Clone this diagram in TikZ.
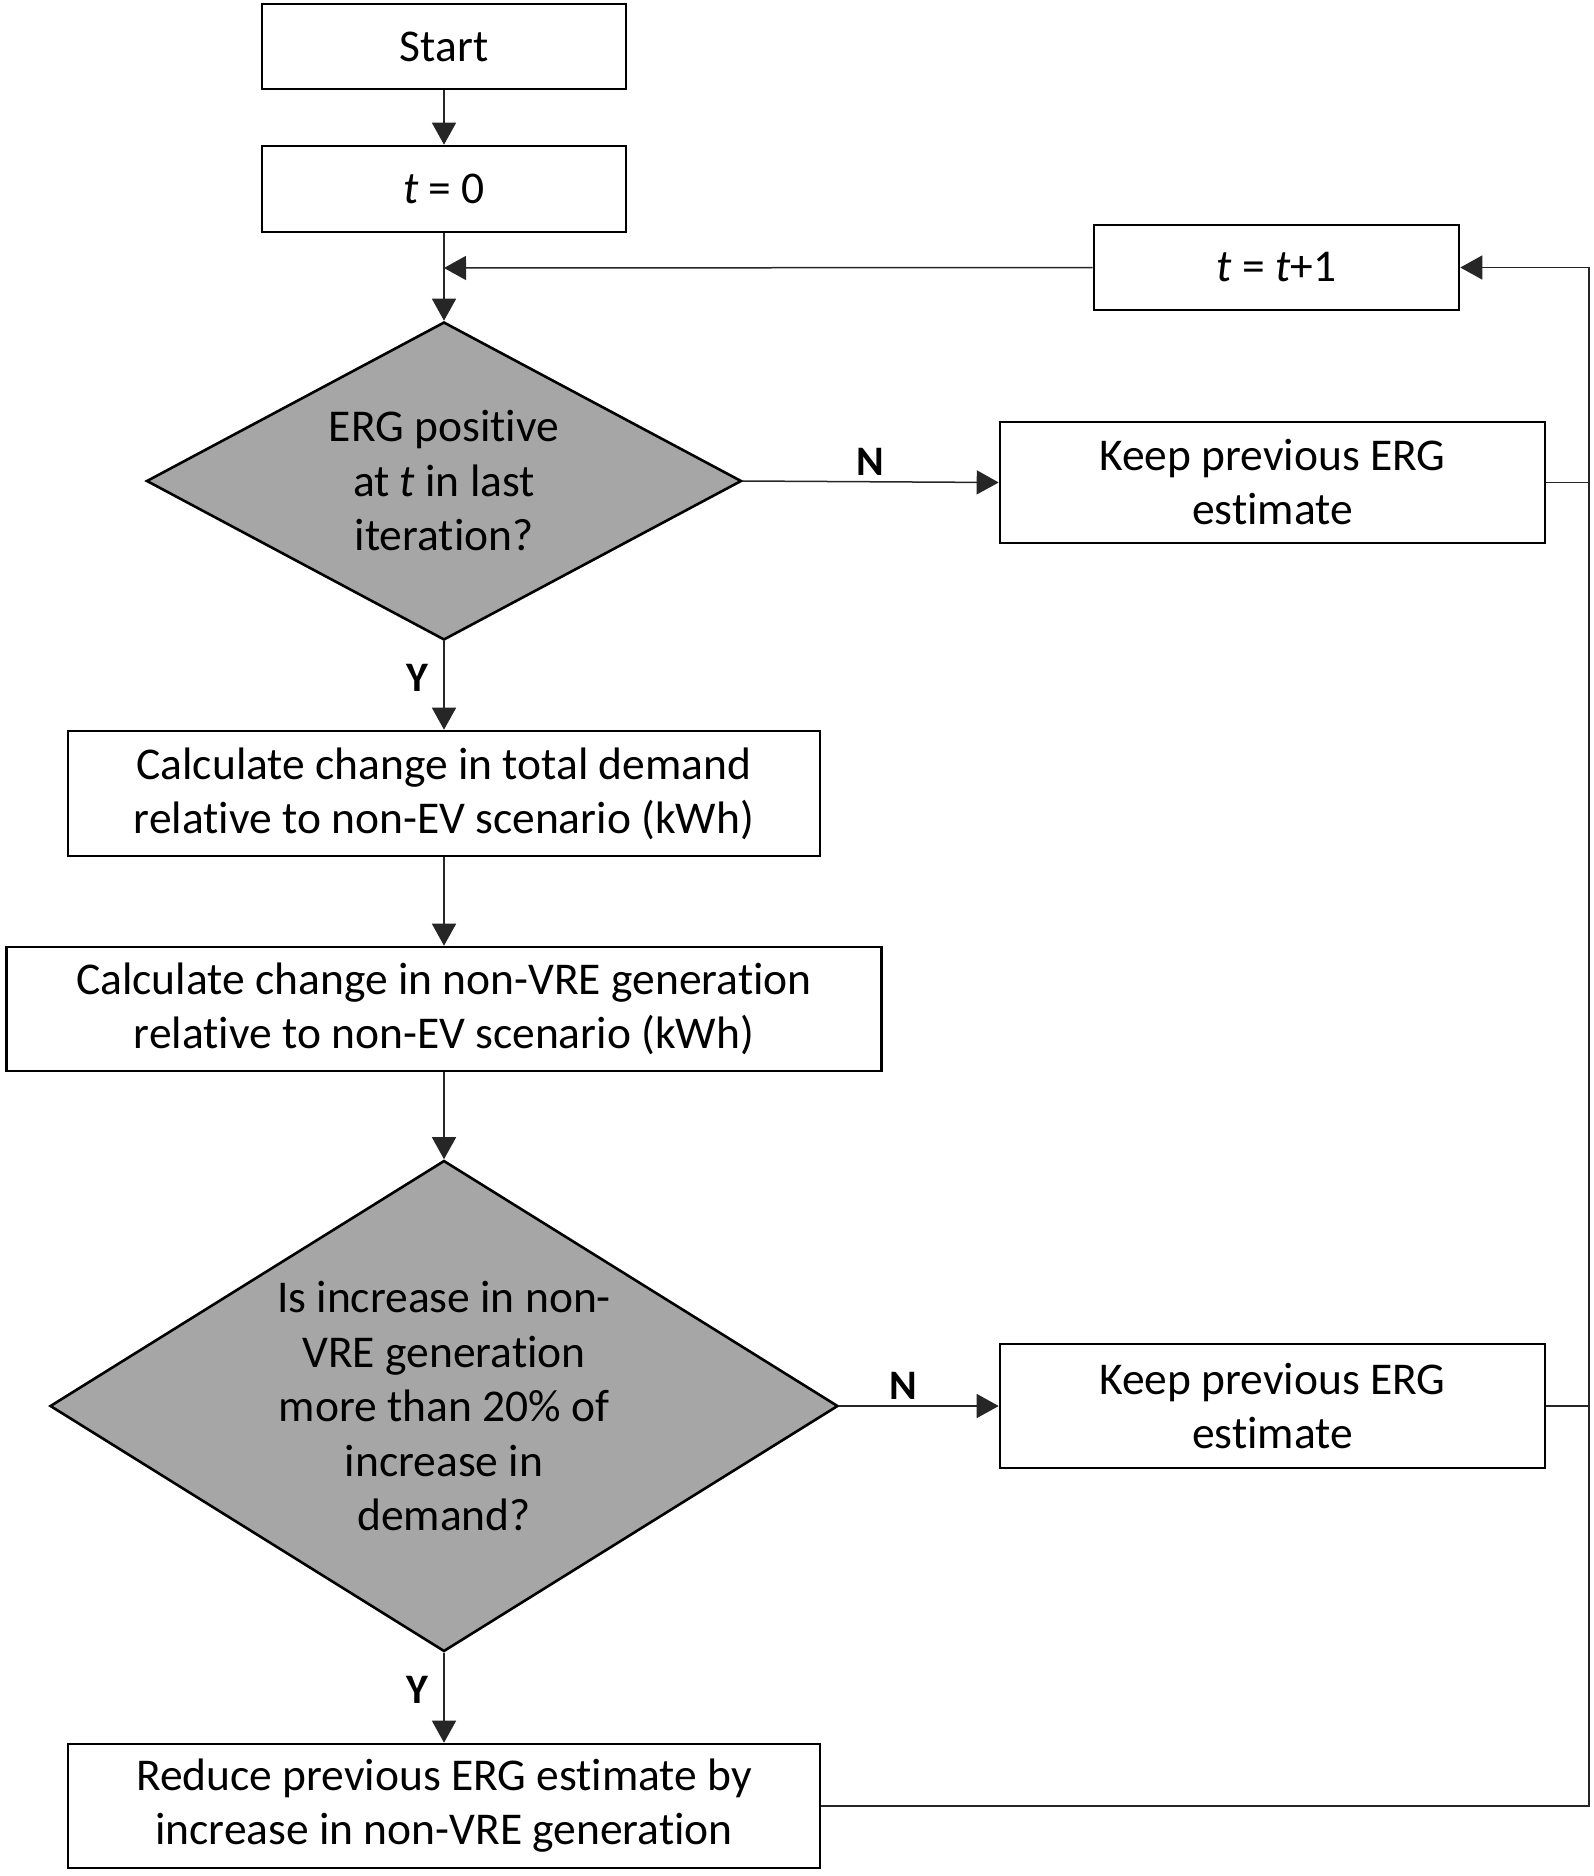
\documentclass[tikz,border=0pt]{standalone}
\usepackage{fontspec}
\setmainfont[Ligatures=NoCommon]{Carlito}
\usetikzlibrary{shapes.geometric,arrows.meta}
\begin{document}
\begin{tikzpicture}[x=1pt,y=-1pt,
  box/.style={draw, line width=2.6pt, inner sep=0pt, align=center, font=\fontsize{45.5}{54}\selectfont},
  dia/.style={diamond, draw, line width=2.6pt, fill=black!35, inner sep=0pt},
  dtext/.style={align=center, font=\fontsize{45.5}{54.5}\selectfont},
  conn/.style={line width=1.5pt, draw=black!85},
  arr/.style={conn, -{Triangle[length=22pt,width=24pt]}},
  lab/.style={font=\fontsize{42}{48}\selectfont\bfseries}]
\useasboundingbox (0,0) rectangle (1593,1876);
\node[box, minimum width=364pt, minimum height=85pt] (start) at (444,46.5) {Start};
\node[box, minimum width=364pt, minimum height=86pt] (t0) at (444,189) {\textit{t} = 0};
\node[box, minimum width=365pt, minimum height=85pt] (tt) at (1276.5,267.5) {\textit{t} = \textit{t}+1};
\node[dia, minimum width=595pt, minimum height=318pt] (d1) at (444,481) {};
\node[dtext] at (444,481) {ERG positive\\at \textit{t} in last\\iteration?};
\node[box, minimum width=545pt, minimum height=121pt] (k1) at (1272.5,482.5) {Keep previous ERG\\estimate};
\node[box, minimum width=752pt, minimum height=125pt] (b3) at (444,793.5) {Calculate change in total demand\\relative to non-EV scenario (kWh)};
\node[box, minimum width=875pt, minimum height=124pt] (b4) at (444,1009) {Calculate change in non-VRE generation\\relative to non-EV scenario (kWh)};
\node[dia, minimum width=788pt, minimum height=491pt] (d2) at (444,1406) {};
\node[dtext] at (444,1406) {Is increase in non-\\VRE generation\\more than 20\% of\\increase in\\demand?};
\node[box, minimum width=545pt, minimum height=124pt] (k2) at (1272.5,1406) {Keep previous ERG\\estimate};
\node[box, minimum width=752pt, minimum height=124pt] (b5) at (444,1806) {Reduce previous ERG estimate by\\increase in non-VRE generation};
\coordinate (join) at (444,268);
\coordinate (r1) at (1589,482.5);
\coordinate (r2) at (1589,1406);
\coordinate (r3) at (1589,1806);
\coordinate (rt) at (1589,267.5);
\draw[arr] (start) -- (t0);
\draw[arr] (t0) -- (d1.north);
\draw[arr] (tt.west) -- (join);
\draw[arr] (d1.east) -- node[lab, above=2pt, pos=0.5] {N} (k1.west);
\draw[arr] (d1.south) -- node[lab, left=12pt, yshift=8pt] {Y} (b3.north);
\draw[arr] (b3) -- (b4);
\draw[arr] (b4) -- (d2.north);
\draw[arr] (d2.east) -- node[lab, above=2pt, pos=0.4] {N} (k2.west);
\draw[arr] (d2.south) -- node[lab, left=12pt, yshift=8pt] {Y} (b5.north);
\draw[conn] (k1.east) -- (r1);
\draw[conn] (k2.east) -- (r2);
\draw[arr] (b5.east) -- (r3) -- (rt) -- (tt.east);
\end{tikzpicture}
\end{document}
